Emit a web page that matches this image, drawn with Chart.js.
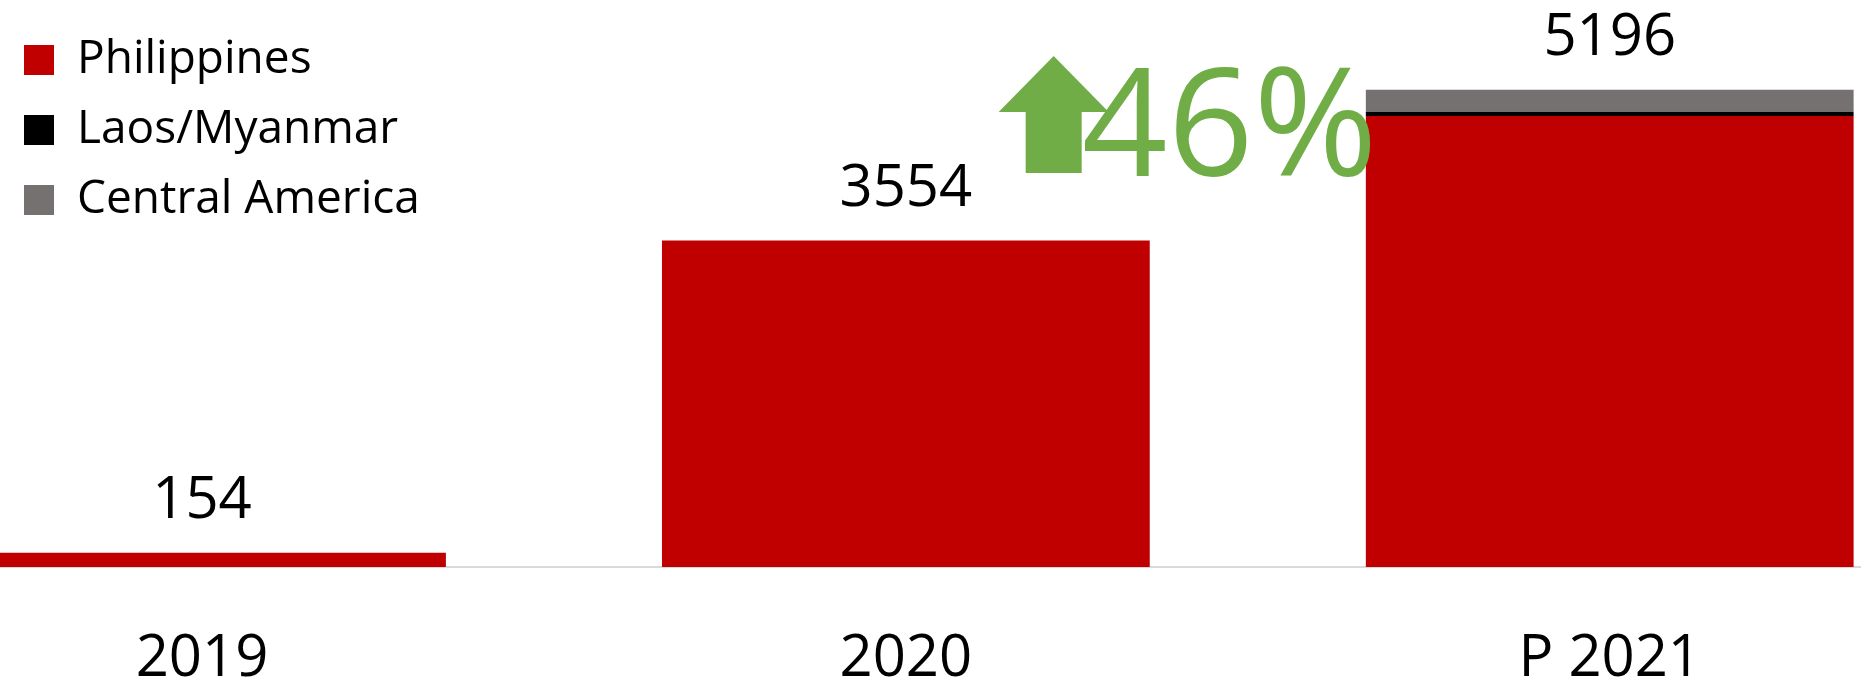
<!DOCTYPE html>
<html>
<head>
<meta charset="utf-8">
<script src="https://cdn.jsdelivr.net/npm/chart.js@4.4.1/dist/chart.umd.min.js"></script>
<style>
  html, body { margin: 0; padding: 0; background: #fff; overflow: hidden; }
  #wrap { position: relative; width: 1861px; height: 683px; }
</style>
</head>
<body>
<div id="wrap"><canvas id="chart"></canvas></div>
<script>
const years = ["2019", "2020", "P 2021"];
const philippines = [154, 3554, 4912];
const laosMyanmar = [0, 0, 44];
const centralAmerica = [0, 0, 240];

const FONT = '"Open Sans", "Liberation Sans", sans-serif';
Chart.defaults.color = '#000';
Chart.defaults.font.family = FONT;

function points(values) {
  return values.map((v, i) => ({ x: i, y: v }));
}

// stack totals above each bar
const totalLabels = {
  id: 'totalLabels',
  afterDatasetsDraw(chart) {
    const { ctx, scales: { x, y } } = chart;
    ctx.save();
    ctx.font = '58px ' + FONT;
    ctx.fillStyle = '#000';
    ctx.textAlign = 'center';
    ctx.textBaseline = 'alphabetic';
    years.forEach((yr, i) => {
      const total = philippines[i] + laosMyanmar[i] + centralAmerica[i];
      ctx.fillText(String(total), x.getPixelForValue(i), y.getPixelForValue(total) - 35);
    });
    ctx.restore();
  }
};

// green arrow with growth from 2020 to 2021
const growthMark = {
  id: 'growthMark',
  afterDraw(chart) {
    const { ctx, scales: { x } } = chart;
    const t1 = philippines[1] + laosMyanmar[1] + centralAmerica[1];
    const t2 = philippines[2] + laosMyanmar[2] + centralAmerica[2];
    const pct = Math.round((t2 - t1) / t1 * 100) + '%';
    const cx = x.getPixelForValue(1.21);
    ctx.save();
    ctx.fillStyle = '#70AD47';
    ctx.beginPath();
    ctx.moveTo(cx, 56);
    ctx.lineTo(cx + 55, 112);
    ctx.lineTo(cx + 28, 112);
    ctx.lineTo(cx + 28, 173);
    ctx.lineTo(cx - 28, 173);
    ctx.lineTo(cx - 28, 112);
    ctx.lineTo(cx - 55, 112);
    ctx.closePath();
    ctx.fill();
    ctx.font = '150px ' + FONT;
    ctx.textAlign = 'center';
    ctx.textBaseline = 'alphabetic';
    ctx.fillText(pct, x.getPixelForValue(1.46), 176);
    ctx.restore();
  }
};

new Chart(document.getElementById('chart'), {
  type: 'bar',
  data: {
    datasets: [
      { label: 'Philippines', data: points(philippines), backgroundColor: '#C00000' },
      { label: 'Laos/Myanmar', data: points(laosMyanmar), backgroundColor: '#000000' },
      { label: 'Central America', data: points(centralAmerica), backgroundColor: '#767171' }
    ]
  },
  options: {
    responsive: true,
    maintainAspectRatio: false,
    animation: false,
    layout: { padding: { top: 16, left: 0, right: 0, bottom: 0 } },
    datasets: { bar: { categoryPercentage: 1, barPercentage: 0.693, borderWidth: 0 } },
    plugins: {
      tooltip: { enabled: false },
      legend: {
        position: 'chartArea',
        align: 'start',
        // empty title only pushes the rows down a little
        title: { display: true, text: '', font: { size: 10 }, padding: { top: 0, bottom: 1 } },
        labels: {
          boxWidth: 30,
          boxHeight: 30,
          padding: 24,
          color: '#000',
          font: { size: 46, family: FONT }
        }
      }
    },
    scales: {
      x: {
        type: 'linear',
        stacked: true,
        offset: false,
        min: -0.287,
        max: 2.357,
        afterBuildTicks(scale) {
          scale.ticks = years.map((y, i) => ({ value: i }));
        },
        afterFit(scale) { scale.height = 116; },
        grid: { display: false, drawTicks: false, offset: false },
        border: { display: true, color: '#D9D9D9', width: 2 },
        ticks: {
          padding: 58,
          font: { size: 58, family: FONT },
          color: '#000',
          callback: (v) => years[v]
        }
      },
      y: {
        stacked: true,
        display: false,
        min: 0,
        max: 6000
      }
    }
  },
  plugins: [totalLabels, growthMark]
});
</script>
</body>
</html>
